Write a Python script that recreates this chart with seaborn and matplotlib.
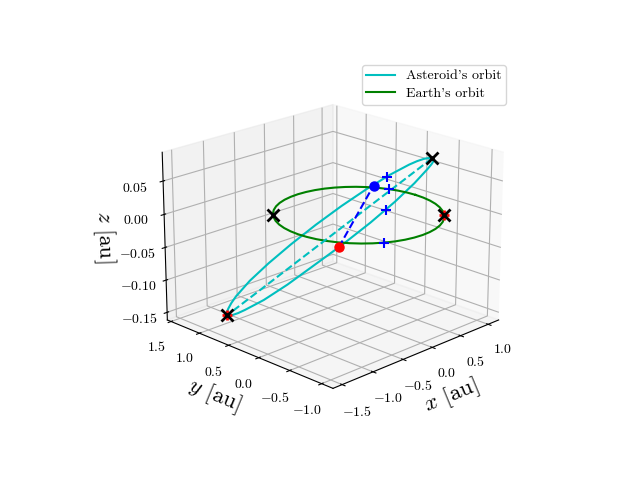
import matplotlib
matplotlib.use("Agg")
import matplotlib.pyplot as plt
import seaborn as sns

# orbit points
ast_x = [0.680, 0.578, 0.461, 0.332, 0.192, -0.109, -0.422, -0.725, -0.997, -1.221, -1.380, -1.463, -1.468, -1.438, -1.389,
         -1.321, -1.236, -1.134, -1.017, -0.888, -0.748, -0.447, -0.134, 0.169, 0.441, 0.665, 0.824, 0.907, 0.912, 0.882,
         0.833, 0.765, 0.680]
ast_y = [-0.529, -0.643, -0.742, -0.824, -0.889, -0.961, -0.953, -0.865, -0.703, -0.479, -0.207, 0.093, 0.401, 0.552, 0.698,
         0.835, 0.961, 1.075, 1.174, 1.256, 1.321, 1.393, 1.385, 1.297, 1.135, 0.911, 0.639, 0.339, 0.031, -0.120,
         -0.266, -0.403, -0.529]
ast_z = [0.0794, 0.0842, 0.0871, 0.0884, 0.0873, 0.0773, 0.0594, 0.0358, 0.0079, -0.0223, -0.0550, -0.0853, -0.1108, -0.1221, -0.1319,
         -0.1410, -0.1472, -0.1505, -0.1519, -0.1502, -0.1466, -0.1345, -0.1166, -0.0930, -0.0651, -0.0350, -0.0048, 0.0235, 0.0480, 0.0583,
         0.0671, 0.0742, 0.0794]

earth_x = [1, 0.991, 0.966, 0.924, 0.866, 0.793, 0.707, 0.609, 0.5, 0.383, 0.259, 0.131,
           0, -0.131, -0.259, -0.383, -0.5, -0.609, -0.707, -0.793, -0.866, -0.924, -0.966, -0.991,
           -1, -0.991, -0.966, -0.924, -0.866, -0.793, -0.707, -0.609, -0.5, -0.383, -0.259, -0.131,
           0, 0.131, 0.259, 0.383, 0.5, 0.609, 0.707, 0.793, 0.866, 0.924, 0.966, 0.991, 1]
earth_y = [0, 0.131, 0.259, 0.383, 0.5, 0.609, 0.707, 0.793, 0.866, 0.924, 0.966, 0.991,
           1, 0.991, 0.966, 0.924, 0.866, 0.793, 0.707, 0.609, 0.5, 0.383, 0.259, 0.131,
           0, -0.131, -0.259, -0.383, -0.5, -0.609, -0.707, -0.793, -0.866, -0.924, -0.966, -0.991,
           -1, -0.991, -0.966, -0.924, -0.866, -0.793, -0.707, -0.609, -0.5, -0.383, -0.259, -0.131, 0]
earth_z = [0] * 49

major_x, major_y, major_z = [0.680, -1.236], [-0.529, 0.961], [0.0794, -0.1472]
nodes_x, nodes_y, nodes_z = [-1.030, 0.849], [-0.670, 0.549], [0.0034, 0.0025]

plus_x = [0.899, 0.930, -0.541, -0.500]
plus_y = [0.367, 0.370, -0.925, -0.870]
plus_z = [0.0194, 0.0, 0.0495, 0.0]

cross_x = [0.680, -1.236, -0.730, 0.690]
cross_y = [-0.529, 0.961, 0.680, -0.720]
cross_z = [0.0794, -0.1472, 0.0, 0.0]

red_x = [-1.236, 0.690]
red_y = [0.961, -0.720]
red_z = [-0.1472, 0.0]

x_ticks = [-1.5, -1.0, -0.5, 0.0, 0.5, 1.0]
y_ticks = [-1.0, -0.5, 0.0, 0.5, 1.0, 1.5]
z_ticks = [-0.15, -0.10, -0.05, 0.0, 0.05]

colors = sns.color_palette(["c", "g", "b", "r", "k"])
c_ast, c_earth, c_blue, c_red, c_black = colors

plt.rcParams["font.family"] = ["cmr10"]
plt.rcParams["mathtext.fontset"] = "cm"
plt.rcParams["axes.formatter.use_mathtext"] = True
plt.rcParams["axes.unicode_minus"] = False

fig = plt.figure(figsize=(6.4, 4.8), dpi=100)
ax = fig.add_subplot(projection="3d")
ax.view_init(elev=20, azim=-135)

ax.plot(ast_x, ast_y, ast_z, color=c_ast, label="Asteroid's orbit")
ax.plot(earth_x, earth_y, earth_z, color=c_earth, label="Earth's orbit")
ax.plot(major_x, major_y, major_z, color=c_ast, ls="--")
ax.plot(nodes_x, nodes_y, nodes_z, color=c_blue, ls="--")
ax.plot(red_x, red_y, red_z, ls="", marker="+", color=c_red, ms=7, mew=2)
ax.plot(cross_x, cross_y, cross_z, ls="", marker="x", color=c_black, ms=8, mew=2)
ax.plot(plus_x, plus_y, plus_z, ls="", marker="+", color=c_blue, ms=7, mew=1.5)
ax.plot([nodes_x[0]], [nodes_y[0]], [nodes_z[0]], ls="", marker="o", color=c_red, ms=6.5)
ax.plot([nodes_x[1]], [nodes_y[1]], [nodes_z[1]], ls="", marker="o", color=c_blue, ms=6.5)

ax.set_xlim(-1.645, 1.195)
ax.set_ylim(-1.174, 1.567)
ax.set_zlim(-0.1619, 0.0925)
ax.set_xticks(x_ticks)
ax.set_yticks(y_ticks)
ax.set_zticks(z_ticks)
ax.set_xlabel(r"$x$ [au]", fontsize=16.5)
ax.set_ylabel(r"$y$ [au]", fontsize=16.5)
ax.set_zlabel(r"$z$ [au]", fontsize=16)
ax.legend(loc="upper right", bbox_to_anchor=(506 / 640, 1 - 65 / 480), fontsize=10.1,
          bbox_transform=fig.transFigure, borderaxespad=0, labelspacing=0.36, borderpad=0.33)

fig.savefig("out.png", dpi=100)
